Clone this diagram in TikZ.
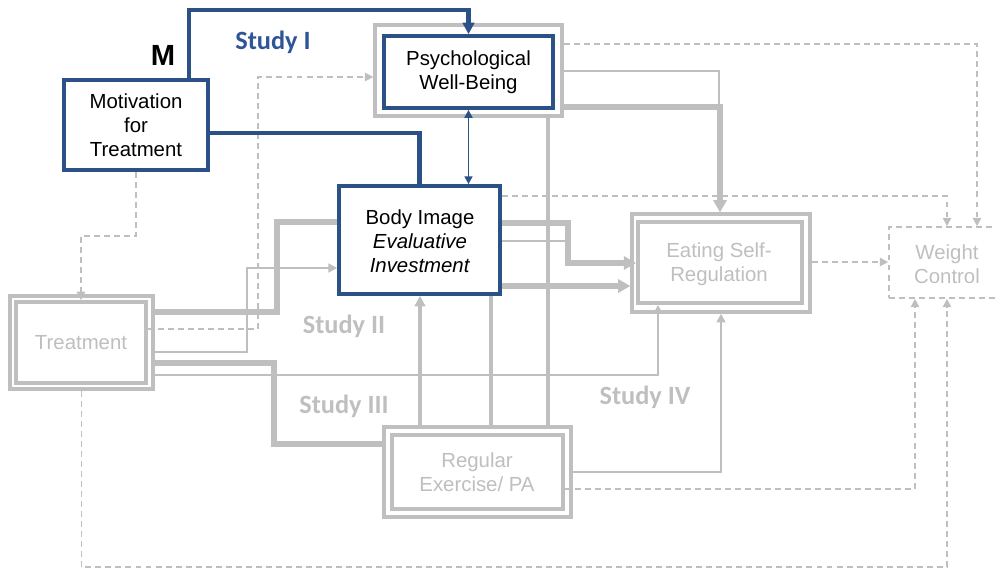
\documentclass[tikz,border=0pt]{standalone}
\usepackage{fontspec}
\setmainfont{Liberation Sans}
\newfontfamily\calfont{Carlito}
\usetikzlibrary{arrows.meta,fit}
\definecolor{nblue}{RGB}{43,81,135}
\definecolor{sblue}{RGB}{47,85,151}
\definecolor{lgray}{RGB}{191,191,191}
\newcommand{\boxfont}{\fontsize{11.6}{13.6}\selectfont}
\newcommand{\studyfont}{\calfont\bfseries\fontsize{15}{17}\selectfont}
\tikzset{
  bbox/.style={draw=nblue, line width=2.1pt, fill=white, inner sep=0pt},
  goutbox/.style={draw=lgray, line width=1.9pt, fill=white, inner sep=0pt},
  ginbox/.style={draw=lgray, line width=2.2pt, fill=white, inner sep=0pt},
  dbox/.style={draw=lgray, line width=0.9pt, dash pattern=on 3.4pt off 2.3pt, inner sep=0pt},
  btext/.style={font=\boxfont, align=center, text=black},
  gtext/.style={font=\boxfont, align=center, text=lgray},
  studylbl/.style={font=\studyfont, text=lgray},
  bthick/.style={draw=nblue, line width=2.6pt},
  bthin/.style={draw=nblue, line width=1.1pt},
  gthick/.style={draw=lgray, line width=2.9pt},
  gmid/.style={draw=lgray, line width=2.2pt},
  gthin/.style={draw=lgray, line width=1.4pt},
  gdash/.style={draw=lgray, line width=0.9pt, dash pattern=on 3.4pt off 2.3pt},
  tipB/.style={-{Triangle[length=6.5pt,width=6.5pt]}},
  tipBs/.style={{Triangle[length=4.5pt,width=4.5pt]}-{Triangle[length=4.5pt,width=4.5pt]}},
  tipG/.style={-{Triangle[length=7pt,width=7.5pt]}},
  tipGm/.style={-{Triangle[length=6pt,width=6pt]}},
  tipGs/.style={-{Triangle[length=5pt,width=5pt]}},
  tipD/.style={-{Triangle[length=4.8pt,width=4.8pt]}},
}
\begin{document}
\begin{tikzpicture}[x=0.02cm, y=-0.02cm]
\useasboundingbox (0,0) rectangle (995,569);

% boxes
\node[bbox, fit={(64,80)(208,170)}] (mot) {};
\node[goutbox, fit={(375,25)(562,116)}] (psyO) {};
\node[bbox, fit={(384,36)(553,108)}] (psyI) {};
\node[bbox, fit={(339,186)(500,294)}] (body) {};
\node[goutbox, fit={(632,214)(810,312)}] (eatO) {};
\node[ginbox, fit={(638,222)(802,303)}] (eatI) {};
\node[dbox, fit={(889,227)(1010,298)}] (wc) {};
\node[goutbox, fit={(10,296)(153,389)}] (trO) {};
\node[ginbox, fit={(16,302)(146,383)}] (trI) {};
\node[goutbox, fit={(384,427)(571,517)}] (exO) {};
\node[ginbox, fit={(392,435)(563,509)}] (exI) {};

% box texts
\node[btext] (motT) at (136,125) {Motivation\\for\\Treatment};
\node[btext] (psyT) at (468.5,72) {Psychological\\Well-Being};
\node[btext] (bodyT) at (420,241) {Body Image\\\textit{Evaluative}\\\textit{Investment}};
\node[gtext] (eatT) at (719,264) {Eating Self-\\Regulation};
\node[gtext] (wcT) at (947,264) {Weight\\Control};
\node[gtext] (trT) at (81,343) {Treatment};
\node[gtext] (exT) at (477,472.5) {Regular\\Exercise/ PA};

% labels
\node[font=\bfseries\fontsize{16.6}{18}\selectfont] (mlbl) at (163,55) {M};
\node[font=\studyfont, text=sblue] (s1) at (273,42) {Study I};
\node[studylbl] (s2) at (344,326) {Study II};
\node[studylbl] (s3) at (344,406) {Study III};
\node[studylbl] (s4) at (645,397) {Study IV};

% paths leaving Psychological Well-Being
\draw[gdash, tipD] (psyO.east |- 0,44) -| (wc.north -| 977,0);
\draw[gthin] (psyO.east |- 0,71) -| (719,107);
\draw[gthick, tipG] (psyO.east |- 0,107) -| (eatO.north -| 720,0);
\draw[gmid] (psyO.south -| 548,0) -- (exO.north -| 548,0);

% paths leaving Body Image
\draw[gdash, tipD] (body.east |- 0,196) -| (wc.north -| 947,0);
\draw[gthick, tipG] (body.east |- 0,223) -| (568,263) -- (eatI.west |- 0,263);
\draw[gthin] (body.east |- 0,241) -- (568,241);
\draw[gthick, tipG] (body.east |- 0,286) -- (eatO.west |- 0,286);
\draw[gmid] (body.south -| 491,0) -- (exO.north -| 491,0);

% paths leaving Treatment
\draw[gthick] (trO.east |- 0,312) -| (277,222) -- (body.west |- 0,222);
\draw[gdash, tipD] (trI.east |- 0,329) -| (258,77) -- (psyO.west |- 0,77);
\draw[gthin, tipGs] (trO.east |- 0,352) -| (247,268) -- (body.west |- 0,268);
\draw[gthick] (trO.east |- 0,363) -| (274,444) -- (exO.west |- 0,444);
\draw[gthin, tipGs] (trO.east |- 0,375) -| (eatI.south -| 658,0);
\draw[gdash, tipD] (trO.south) |- (947,567) -- (wc.south -| 947,0);

% paths leaving Regular Exercise
\draw[gmid, tipGm] (exO.north -| 420,0) -- (body.south -| 420,0);
\draw[gthin, tipGs] (exO.east |- 0,472) -| (eatO.south -| 721,0);
\draw[gdash, tipD] (exI.east |- 0,489) -| (wc.south -| 915,0);

% Eating Self-Regulation to Weight Control
\draw[gdash, tipD] (eatO.east |- 0,262) -- (wc.west |- 0,262);

% Motivation to Treatment
\draw[gdash, tipD] (mot.south) |- (trI.north |- 0,236) -- (trI.north);

% Study I paths
\draw[bthick, tipB] (mot.north -| 189,0) |- (psyI.north |- 0,10) -- (psyI.north);
\draw[bthick] (mot.east |- 0,133) -| (body.north);
\draw[bthin, tipBs] (psyI.south) -- (psyI.south |- body.north);
\end{tikzpicture}
\end{document}
